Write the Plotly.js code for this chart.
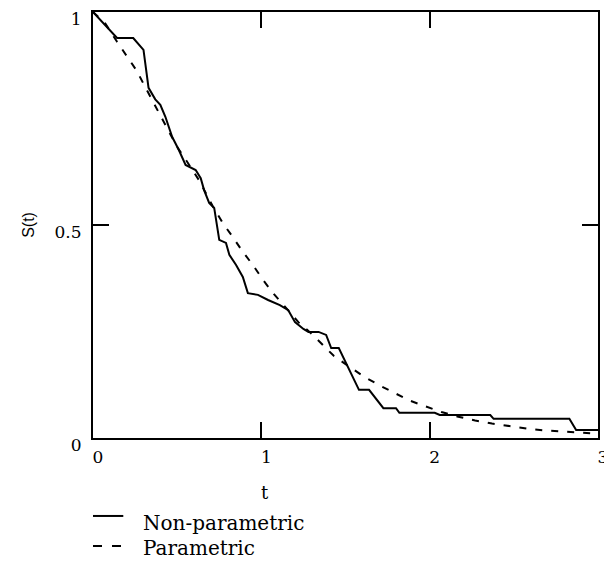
<!DOCTYPE html>
<html>
<head>
<meta charset="utf-8">
<script src="https://cdn.plot.ly/plotly-3.0.1.min.js"></script>
<style>html,body{margin:0;padding:0;background:#fff;}#chart{width:604px;height:563px;}</style>
</head>
<body>
<div id="chart"></div>
<script>
// Non-parametric (Kaplan-Meier style) estimate
var npT = [0, 0.143, 0.239, 0.30, 0.33, 0.37, 0.40, 0.43, 0.47, 0.51, 0.55, 0.61, 0.64, 0.66, 0.69, 0.72, 0.75, 0.79, 0.81, 0.85, 0.89, 0.92, 0.98, 1.04, 1.11, 1.16, 1.20, 1.25, 1.28, 1.34, 1.385, 1.415, 1.46, 1.50, 1.53, 1.58, 1.64, 1.725, 1.80, 1.82, 2.03, 2.06, 2.36, 2.38, 2.83, 2.87, 3.00];
var npS = [1, 0.939, 0.939, 0.911, 0.822, 0.795, 0.782, 0.754, 0.707, 0.676, 0.641, 0.629, 0.610, 0.582, 0.552, 0.540, 0.465, 0.458, 0.430, 0.406, 0.378, 0.340, 0.336, 0.324, 0.312, 0.300, 0.272, 0.256, 0.249, 0.249, 0.242, 0.211, 0.211, 0.178, 0.155, 0.113, 0.113, 0.070, 0.070, 0.059, 0.059, 0.054, 0.054, 0.045, 0.045, 0.019, 0.019];
// Parametric fit
var pT = [0, 0.07, 0.143, 0.21, 0.26, 0.31, 0.40, 0.50, 0.56, 0.63, 0.71, 0.77, 0.83, 0.89, 0.95, 1.01, 1.07, 1.15, 1.22, 1.30, 1.37, 1.43, 1.52, 1.61, 1.70, 1.785, 1.88, 1.97, 2.07, 2.17, 2.27, 2.37, 2.47, 2.58, 2.68, 2.78, 2.89, 3.00];
var pS = [1, 0.975, 0.930, 0.892, 0.862, 0.824, 0.758, 0.683, 0.648, 0.605, 0.545, 0.505, 0.472, 0.437, 0.406, 0.371, 0.340, 0.303, 0.272, 0.244, 0.216, 0.193, 0.168, 0.144, 0.124, 0.107, 0.088, 0.075, 0.061, 0.050, 0.041, 0.034, 0.028, 0.022, 0.018, 0.015, 0.012, 0.010];
var xTicks = [0, 1, 2, 3];
var yTicks = [0, 0.5, 1];
var yTickText = ['0', '0.5', '1'];

var serif = 'DejaVu Serif';
var sans = 'Liberation Sans';
var traces = [
  {x: npT, y: npS, type: 'scatter', mode: 'lines', line: {color: '#000', width: 2}, name: 'Non-parametric', hoverinfo: 'skip'},
  {x: pT, y: pS, type: 'scatter', mode: 'lines', line: {color: '#000', width: 2, dash: '7px,9px'}, name: 'Parametric', hoverinfo: 'skip'}
];
var axisCommon = {
  showgrid: false, zeroline: false, showline: true, linecolor: '#000', linewidth: 2,
  mirror: 'ticks', ticks: 'inside', ticklen: 16, tickwidth: 2, tickcolor: '#000',
  tickfont: {family: serif, size: 17, color: '#000'}, automargin: false, fixedrange: true,
  ticklabeloverflow: 'allow'
};
var layout = {
  width: 604, height: 563,
  margin: {l: 93, r: 6, t: 12, b: 125},
  paper_bgcolor: '#fff', plot_bgcolor: '#fff',
  showlegend: false,
  font: {family: serif},
  xaxis: Object.assign({}, axisCommon, {range: [0, 3], tickvals: xTicks, ticktext: xTicks.map(String), ticklabelshift: 5, ticklabelstandoff: 3}),
  yaxis: Object.assign({}, axisCommon, {range: [0, 1], tickvals: yTicks, ticktext: yTickText, ticklabelshift: 7, ticklabelstandoff: 6}),
  shapes: [
    {type: 'line', xref: 'paper', yref: 'paper', x0: 0, x1: 0.06, y0: -0.183, y1: -0.183, line: {color: '#000', width: 2}},
    {type: 'line', xref: 'paper', yref: 'paper', x0: 0, x1: 0.06, y0: -0.2535, y1: -0.2535, line: {color: '#000', width: 2, dash: '9px,10px'}}
  ],
  annotations: [
    {text: 'Non-parametric', xref: 'paper', yref: 'paper', x: 0.097, y: -0.199, xanchor: 'left', yanchor: 'middle', showarrow: false, borderpad: 0, font: {family: serif, size: 20, color: '#000'}},
    {text: 'Parametric', xref: 'paper', yref: 'paper', x: 0.097, y: -0.258, xanchor: 'left', yanchor: 'middle', showarrow: false, borderpad: 0, font: {family: serif, size: 20, color: '#000'}},
    {text: 't', xref: 'paper', yref: 'paper', x: 0.3406, y: -0.129, xanchor: 'center', yanchor: 'middle', showarrow: false, font: {family: serif, size: 18, color: '#000'}},
    {text: 'S(t)', xref: 'paper', yref: 'paper', x: -0.129, y: 0.5, xanchor: 'center', yanchor: 'middle', textangle: -90, showarrow: false, font: {family: sans, size: 16, color: '#000'}}
  ]
};
Plotly.newPlot('chart', traces, layout, {staticPlot: true, displayModeBar: false});
</script>
</body>
</html>
